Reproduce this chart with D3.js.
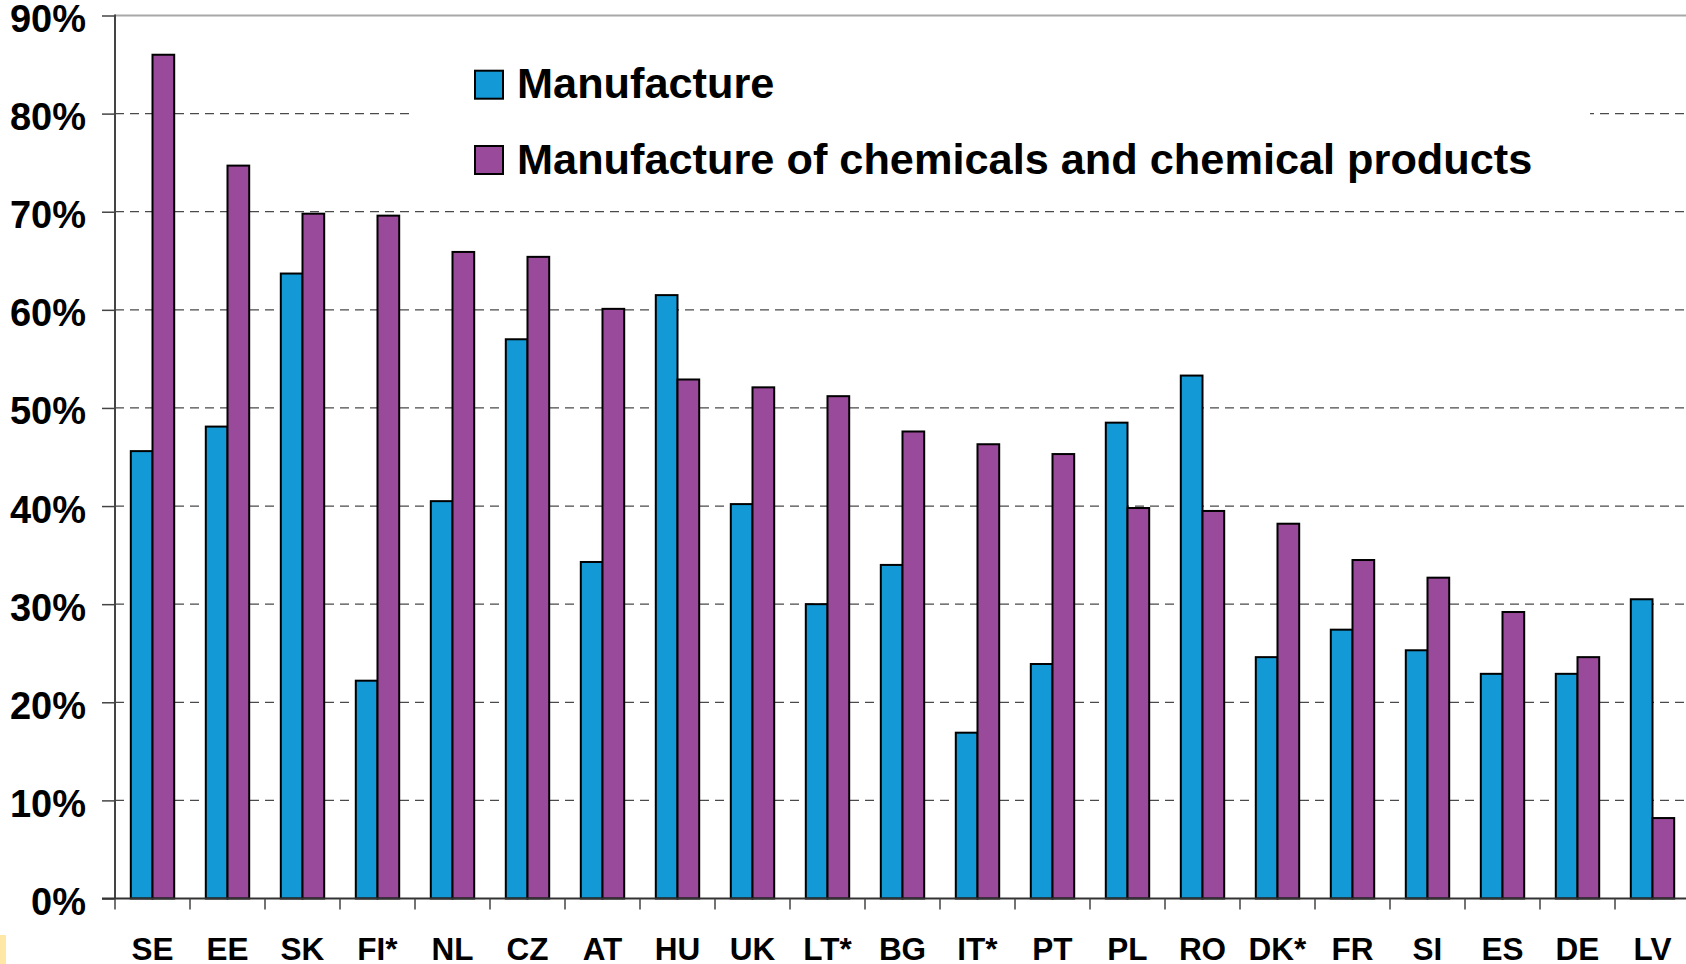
<!DOCTYPE html>
<html>
<head>
<meta charset="utf-8">
<script src="https://cdn.jsdelivr.net/npm/d3@7"></script>
<style>
  html, body { margin: 0; padding: 0; background: #ffffff; overflow: hidden; }
  svg { display: block; }
</style>
</head>
<body>
<div id="chart"></div>
<script>
var countries = ["SE","EE","SK","FI*","NL","CZ","AT","HU","UK","LT*","BG","IT*","PT","PL","RO","DK*","FR","SI","ES","DE","LV"];
var seriesNames = ["Manufacture", "Manufacture of chemicals and chemical products"];
var manufacture = [45.6,48.1,63.7,22.2,40.5,57.0,34.3,61.5,40.2,30.0,34.0,16.9,23.9,48.5,53.3,24.6,27.4,25.3,22.9,22.9,30.5];
var chemicals = [86.0,74.7,69.8,69.6,65.9,65.4,60.1,52.9,52.1,51.2,47.6,46.3,45.3,39.8,39.5,38.2,34.5,32.7,29.2,24.6,8.2];
var yTicks = [0,10,20,30,40,50,60,70,80,90];
var colors = ["#139ad6", "#994a9a"];

var width = 1686;
var height = 964;
var plotLeft = 115, plotTop = 15.5, base = 898.5;
var fontFam = "'Liberation Sans', Arial, sans-serif";

var svg = d3.select("#chart").append("svg")
    .attr("width", width)
    .attr("height", height);

// scales
var x0 = d3.scaleBand().domain(countries).range([plotLeft, plotLeft + 75 * countries.length]).padding(0);
var x1 = d3.scaleBand().domain(seriesNames).range([0, 43.4]).padding(0);
var y = d3.scaleLinear().domain([0, 90]).range([base, plotTop]);
var offset = (x0.bandwidth() - 43.4) / 2;

// dashed gridlines
svg.append("g").selectAll("line")
    .data(yTicks.filter(function(d) { return d > 0 && d < 90; }))
    .enter().append("line")
    .attr("x1", plotLeft).attr("x2", width)
    .attr("y1", function(d) { return y(d); })
    .attr("y2", function(d) { return y(d); })
    .style("stroke", "#4a4a4a")
    .style("stroke-width", 1.3)
    .style("stroke-dasharray", "9,6");

// top border of plot
svg.append("line")
    .attr("x1", plotLeft).attr("x2", width)
    .attr("y1", y(90)).attr("y2", y(90))
    .style("stroke", "#a8a8a8")
    .style("stroke-width", 2);

// legend box (hides gridline behind it)
svg.append("rect")
    .attr("x", 412).attr("y", 32)
    .attr("width", 1178).attr("height", 158)
    .style("fill", "#ffffff");

// bars
var rows = countries.map(function(c, i) { return { c: c, v: [manufacture[i], chemicals[i]] }; });
var groups = svg.append("g").selectAll("g")
    .data(rows).enter().append("g")
    .attr("transform", function(d) { return "translate(" + (x0(d.c) + offset) + ",0)"; });

groups.selectAll("rect")
    .data(function(d) { return d.v.map(function(v, k) { return { s: seriesNames[k], k: k, v: v }; }); })
    .enter().append("rect")
    .attr("x", function(d) { return x1(d.s); })
    .attr("y", function(d) { return y(d.v); })
    .attr("width", x1.bandwidth())
    .attr("height", function(d) { return base - y(d.v); })
    .style("fill", function(d) { return colors[d.k]; })
    .style("stroke", "#000")
    .style("stroke-width", 2);

// y axis
var yAxis = d3.axisLeft(y).tickValues(yTicks).tickSize(13).tickPadding(16)
    .tickFormat(function(d) { return d + "%"; });
var gy = svg.append("g").attr("transform", "translate(" + plotLeft + ",0)").call(yAxis);
gy.select(".domain").remove();
gy.selectAll(".tick line").style("stroke", "#444").style("stroke-width", 1.5);
gy.selectAll("text")
    .attr("dy", "0.42em")
    .style("font-family", fontFam)
    .style("font-size", "38px")
    .style("font-weight", "bold")
    .style("fill", "#000");

svg.append("line")
    .attr("x1", plotLeft).attr("x2", plotLeft)
    .attr("y1", plotTop - 1).attr("y2", base)
    .style("stroke", "#444")
    .style("stroke-width", 2);

// x axis baseline + ticks
svg.append("line")
    .attr("x1", 102).attr("x2", width)
    .attr("y1", base).attr("y2", base)
    .style("stroke", "#333")
    .style("stroke-width", 2);

svg.append("g").selectAll("line")
    .data(countries).enter().append("line")
    .attr("x1", function(d) { return x0(d); })
    .attr("x2", function(d) { return x0(d); })
    .attr("y1", base).attr("y2", base + 11)
    .style("stroke", "#444")
    .style("stroke-width", 1.5);

svg.append("g").selectAll("text")
    .data(countries).enter().append("text")
    .attr("x", function(d) { return x0(d) + x0.bandwidth() / 2; })
    .attr("y", 960)
    .attr("text-anchor", "middle")
    .text(function(d) { return d; })
    .style("font-family", fontFam)
    .style("font-size", "31.5px")
    .style("font-weight", "bold")
    .style("fill", "#000");

// legend
var legY = [70.7, 146];
var leg = svg.append("g").selectAll("g")
    .data(seriesNames).enter().append("g");
leg.append("rect")
    .attr("x", 475)
    .attr("y", function(d, i) { return legY[i]; })
    .attr("width", 28).attr("height", 28)
    .style("fill", function(d, i) { return colors[i]; })
    .style("stroke", "#000")
    .style("stroke-width", 2);
leg.append("text")
    .attr("x", 517)
    .attr("y", function(d, i) { return legY[i] + 27.6; })
    .text(function(d) { return d; })
    .style("font-family", fontFam)
    .style("font-size", "43.3px")
    .style("font-weight", "bold")
    .style("fill", "#000");

// small yellow mark in the lower-left corner of the slide
svg.append("rect")
    .attr("x", 0).attr("y", 935)
    .attr("width", 6).attr("height", 29)
    .style("fill", "#ffe8a6");
</script>
</body>
</html>
